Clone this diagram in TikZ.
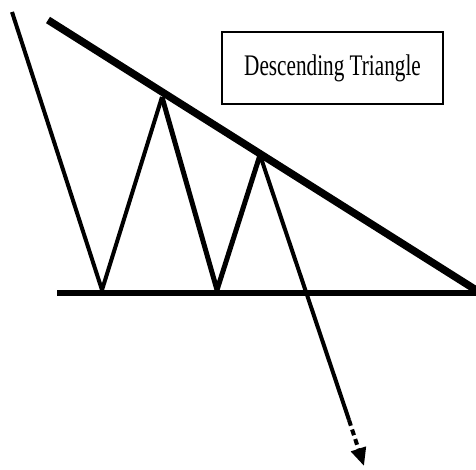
\documentclass[tikz,border=0pt]{standalone}
\usepackage{fontspec}
\setmainfont{Liberation Serif}
\usetikzlibrary{arrows.meta}
\begin{document}
\begin{tikzpicture}[x=1bp,y=-1bp,
  thinline/.style={line width=4bp},
  midline/.style={line width=5bp},
  thickline/.style={line width=7.5bp},
  baseline/.style={line width=6.5bp},
  labelbox/.style={draw,line width=1.2bp,minimum width=221bp,minimum height=72bp,inner sep=0pt}]
\useasboundingbox (0,0) rectangle (476,470);
\coordinate (L0) at (12,12);
\coordinate (A) at (102,290);
\coordinate (B) at (162,97);
\coordinate (C) at (217,290);
\coordinate (D) at (260,155);
\coordinate (E) at (349,420);
\coordinate (F) at (364,466);
\coordinate (T0) at (48,20);
\coordinate (T1) at (476,290);
\coordinate (H0) at (57,293);
\coordinate (H1) at (476,293);
\draw[thickline] (T0) -- (T1);
\draw[baseline] (H0) -- (H1);
\draw[thinline] (L0) -- (A);
\draw[thinline] (A) -- (B);
\draw[midline] (B) -- (C);
\draw[midline] (C) -- (D);
\draw[thinline] (D) -- (E);
\draw[thinline,dash pattern=on 6bp off 4bp,-{Triangle[length=18bp,width=15bp]}] (E) -- (F);
\node[labelbox] (lbl) at (332.5,68) {\fontsize{30}{30}\selectfont\scalebox{0.71}[1]{Descending Triangle}};
\end{tikzpicture}
\end{document}
